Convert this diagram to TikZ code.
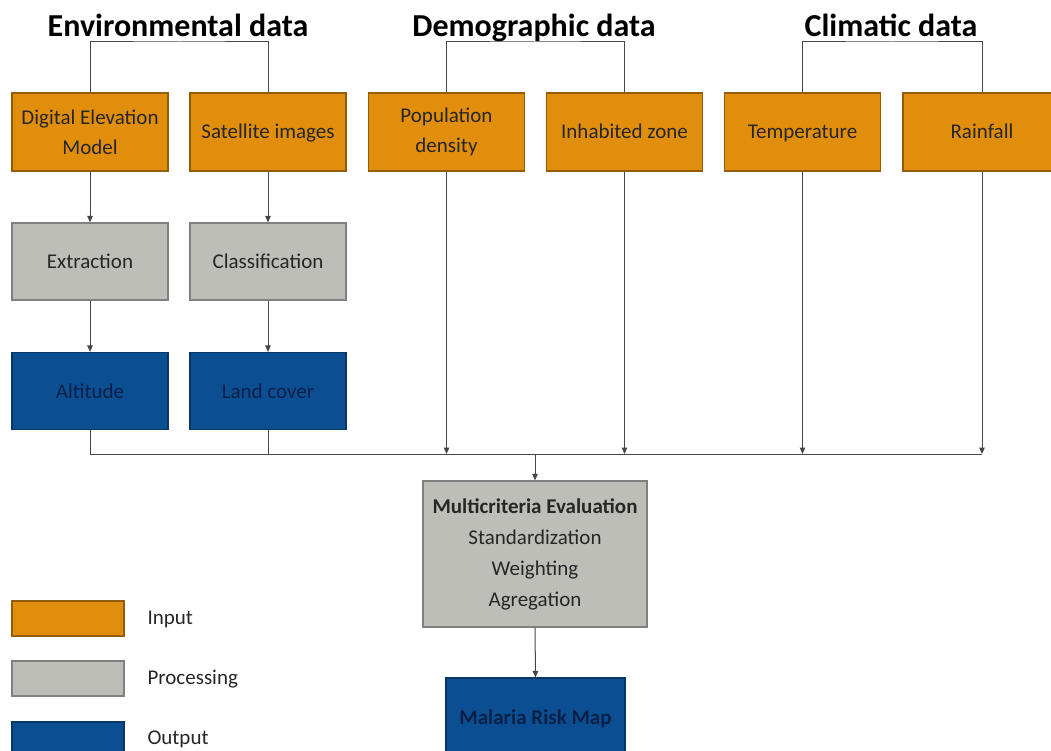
\documentclass[tikz,border=0pt]{standalone}
\usepackage{fontspec}
\setmainfont{Carlito}
\usetikzlibrary{arrows.meta,calc}
\definecolor{inorange}{RGB}{224,142,12}
\definecolor{procgray}{RGB}{190,190,185}
\definecolor{outblue}{RGB}{11,79,146}
\definecolor{navytext}{RGB}{8,32,72}
\definecolor{linegray}{RGB}{70,70,70}
\begin{document}
\begin{tikzpicture}[x=1pt,y=-1pt,
  box/.style={rectangle, minimum width=156pt, minimum height=78pt, align=center,
    font=\fontsize{21}{30}\selectfont, inner sep=2pt, line width=1.2pt},
  one/.style={text height=17pt, text depth=3pt},
  inp/.style={box, fill=inorange, draw=inorange!65!black, text=black!85},
  proc/.style={box, fill=procgray, draw=black!50, text=black!85},
  outp/.style={box, fill=outblue, draw=outblue!70!black, text=navytext},
  hdr/.style={anchor=base, font=\fontsize{32}{38}\selectfont\bfseries},
  conn/.style={draw=linegray, line width=1pt},
  arr/.style={conn, -{Triangle[length=6.5pt,width=5.5pt]}},
  legbox/.style={rectangle, minimum width=112pt, minimum height=35pt, line width=1.2pt},
  leglab/.style={anchor=west, font=\fontsize{21}{24}\selectfont, text=black!85}
]
\useasboundingbox (0,0) rectangle (1051,751);
\clip (0,0) rectangle (1051,751);

% headers
\node[hdr] (henv) at (178,37) {Environmental data};
\node[hdr] (hdem) at (534,37) {Demographic data};
\node[hdr] (hcli) at (891,37) {Climatic data};

% input row
\node[inp] (dem) at (90,132) {Digital Elevation\\Model};
\node[inp, one] (sat) at (268,132) {Satellite images};
\node[inp] (pop) at (446.5,132) {Population\\density};
\node[inp, one] (inh) at (624.5,132) {Inhabited zone};
\node[inp, one] (tmp) at (802.5,132) {Temperature};
\node[inp, one, minimum width=158pt] (rain) at (982,132) {Rainfall};

% processing row
\node[proc, one, minimum height=77pt] (ext) at (90,261.5) {Extraction};
\node[proc, one, minimum height=77pt] (cls) at (268,261.5) {Classification};

% output row
\node[outp, one, minimum height=77pt] (alt) at (90,391) {Altitude};
\node[outp, one, minimum height=77pt] (lc) at (268,391) {Land cover};

% MCE
\node[proc, minimum width=224pt, minimum height=146pt, font=\fontsize{21}{31}\selectfont] (mce) at (535,554)
  {\textbf{Multicriteria Evaluation}\\Standardization\\Weighting\\Agregation};
\node[outp, one, minimum width=179pt, minimum height=78pt, font=\fontsize{21}{30}\selectfont\bfseries] (mal) at (535.5,717) {Malaria Risk Map};

% brackets
\coordinate (benv) at (179,42);
\coordinate (bdem) at (535,42);
\coordinate (bcli) at (892,42);
\draw[conn] (dem.north) |- (benv) -| (sat.north);
\draw[conn] (pop.north) |- (bdem) -| (inh.north);
\draw[conn] (tmp.north) |- (bcli) -| (rain.north);

% vertical arrows
\draw[arr] (dem.south) -- (ext.north);
\draw[arr] (sat.south) -- (cls.north);
\draw[arr] (ext.south) -- (alt.north);
\draw[arr] (cls.south) -- (lc.north);

% bus
\coordinate (busL) at (90,454);
\coordinate (busR) at (982,454);
\draw[conn] (alt.south) -- (busL) -- (busR);
\draw[conn] (lc.south) -- (lc.south |- busL);
\draw[arr] (pop.south) -- (pop.south |- busL);
\draw[arr] (inh.south) -- (inh.south |- busL);
\draw[arr] (tmp.south) -- (tmp.south |- busL);
\draw[arr] (rain.south) -- (rain.south |- busL);
\draw[arr] (mce.north |- busL) -- (mce.north);
\draw[arr] (mce.south) -- (mal.north);

% legend
\node[legbox, fill=inorange, draw=inorange!65!black] (lin) at (68,618.5) {};
\node[legbox, fill=procgray, draw=black!50] (lproc) at (68,678.5) {};
\node[legbox, fill=outblue, draw=outblue!70!black] (lout) at (68,739.5) {};
\node[leglab] (tin) at (144,619) {Input};
\node[leglab] (tproc) at (144,679) {Processing};
\node[leglab] (tout) at (144,739) {Output};
\end{tikzpicture}
\end{document}
